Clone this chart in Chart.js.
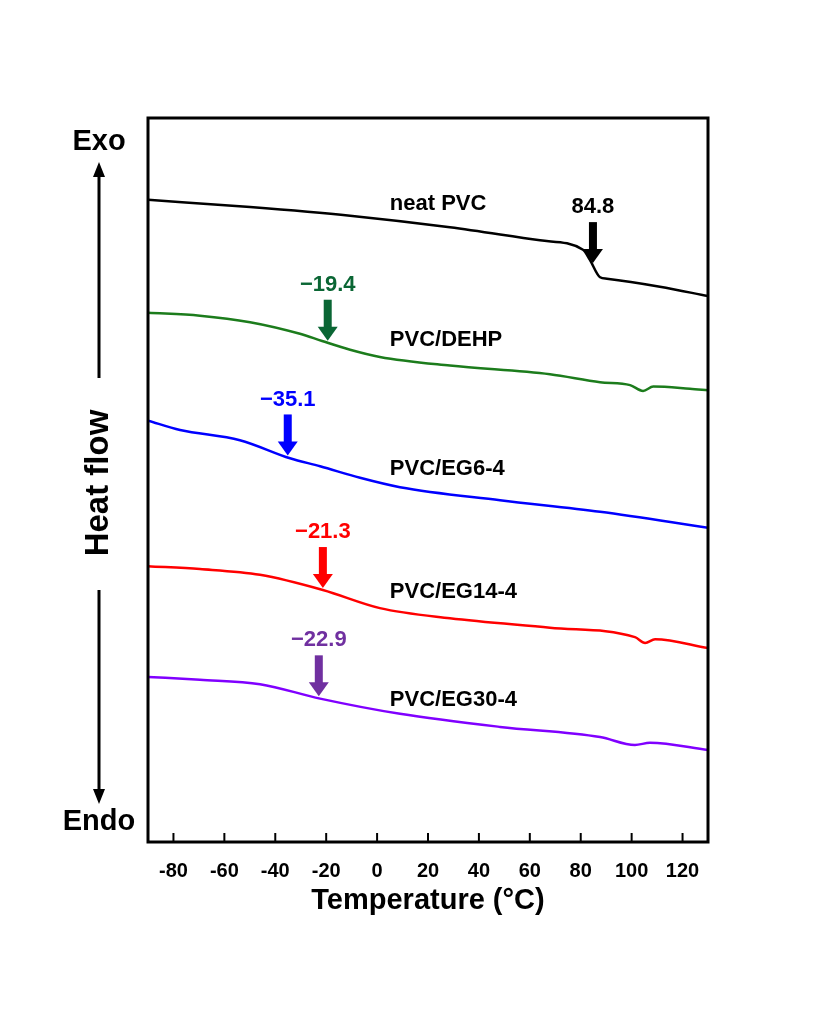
<!DOCTYPE html>
<html>
<head>
<meta charset="utf-8">
<script src="https://cdn.jsdelivr.net/npm/chart.js@4"></script>
<style>
  body { margin: 0; background: #fff; }
  #wrap { width: 823px; height: 1010px; }
</style>
</head>
<body>
<div id="wrap"><canvas id="dscChart" width="823" height="1010"></canvas></div>
<script>
// temperatures (degC) and heat flow (arbitrary units, shifted per curve)
const neatTemp = [-90, -49.9, -10.6, 28.6, 64.0, 80.9, 83.6, 87.6, 90.3, 111.1, 130];
const neatFlow = [88.7, 87.7, 86.5, 84.9, 83.1, 81.8, 80.4, 78.0, 77.8, 76.7, 75.4];

const dehpTemp = [-90, -69.6, -49.9, -30.3, -21.6, -10.6, 1.1, 28.6, 67.9, 87.6, 99.4, 104.5, 108.5, 122.9, 130];
const dehpFlow = [73.1, 72.7, 71.8, 70.2, 69.2, 68.0, 67.0, 65.8, 64.6, 63.5, 63.1, 62.3, 62.9, 62.6, 62.4];

const eg6Temp = [-90, -77.4, -53.9, -34.2, -22.4, -6.7, 9.0, 48.3, 87.6, 130];
const eg6Flow = [58.2, 56.9, 55.5, 53.0, 51.9, 50.3, 49.0, 47.2, 45.6, 43.4];

const eg14Temp = [-90, -69.6, -46.0, -21.3, 1.1, 28.6, 67.9, 101.3, 105.3, 109.2, 130];
const eg14Flow = [38.1, 37.7, 36.9, 34.8, 32.3, 30.9, 29.6, 28.3, 27.5, 28.0, 26.8];

const eg30Temp = [-90, -69.6, -46.0, -22.4, 9.0, 48.3, 87.6, 101.3, 107.2, 130];
const eg30Flow = [22.8, 22.4, 21.8, 19.8, 17.7, 15.9, 14.5, 13.4, 13.7, 12.7];

const curveNames = ['neat PVC', 'PVC/DEHP', 'PVC/EG6-4', 'PVC/EG14-4', 'PVC/EG30-4'];
const lineColors = ['#000000', '#1c7c1c', '#0000ff', '#ff0000', '#8000ff'];
const arrowColors = ['#000000', '#0a6634', '#0000ff', '#ff0000', '#7030a0'];

// glass transition temperatures marked by arrows
const tgValues = [84.8, -19.4, -35.1, -21.3, -22.9];
const tgLabels = ['84.8', '\u221219.4', '\u221235.1', '\u221221.3', '\u221222.9'];

// where the curve names sit
const nameTemp = 5;
const nameFlow = [88.1, 69.3, 51.5, 34.5, 19.6];

const tickValues = [-80, -60, -40, -20, 0, 20, 40, 60, 80, 100, 120];

const temps = [neatTemp, dehpTemp, eg6Temp, eg14Temp, eg30Temp];
const flows = [neatFlow, dehpFlow, eg6Flow, eg14Flow, eg30Flow];

function interp(xs, ys, x) {
    for (let i = 0; i < xs.length - 1; i++) {
        if (x >= xs[i] && x <= xs[i + 1]) {
            const f = (x - xs[i]) / (xs[i + 1] - xs[i]);
            return ys[i] + f * (ys[i + 1] - ys[i]);
        }
    }
    return ys[ys.length - 1];
}

const frameAndTicks = {
    id: 'frameAndTicks',
    afterDraw(chart) {
        const ctx = chart.ctx;
        const a = chart.chartArea;
        const x = chart.scales.x;
        ctx.save();
        ctx.strokeStyle = '#000';
        ctx.lineWidth = 3;
        ctx.strokeRect(a.left, a.top, a.right - a.left, a.bottom - a.top);
        ctx.lineWidth = 2;
        tickValues.forEach(v => {
            const px = x.getPixelForValue(v);
            ctx.beginPath();
            ctx.moveTo(px, a.bottom);
            ctx.lineTo(px, a.bottom - 9);
            ctx.stroke();
        });
        ctx.restore();
    }
};

const sideLabels = {
    id: 'sideLabels',
    afterDraw(chart) {
        const ctx = chart.ctx;
        const cx = 99;
        ctx.save();
        ctx.fillStyle = '#000';
        ctx.strokeStyle = '#000';
        ctx.textAlign = 'center';
        ctx.textBaseline = 'middle';
        ctx.font = 'bold 29px "Liberation Sans", Arial, sans-serif';
        ctx.fillText('Exo', cx, 142);
        ctx.fillText('Endo', cx, 822);

        ctx.lineWidth = 3;
        ctx.beginPath();
        ctx.moveTo(cx, 172); ctx.lineTo(cx, 378);
        ctx.moveTo(cx, 590); ctx.lineTo(cx, 794);
        ctx.stroke();
        ctx.beginPath();
        ctx.moveTo(cx, 162); ctx.lineTo(cx - 6, 177); ctx.lineTo(cx + 6, 177); ctx.closePath();
        ctx.moveTo(cx, 804); ctx.lineTo(cx - 6, 789); ctx.lineTo(cx + 6, 789); ctx.closePath();
        ctx.fill();

        ctx.translate(cx, 483);
        ctx.rotate(-Math.PI / 2);
        ctx.font = 'bold 33px "Liberation Sans", Arial, sans-serif';
        ctx.fillText('Heat flow', 0, 0);
        ctx.restore();
    }
};

const tgArrows = {
    id: 'tgArrows',
    afterDatasetsDraw(chart) {
        const ctx = chart.ctx;
        const xs = chart.scales.x, ys = chart.scales.y;
        ctx.save();
        ctx.textAlign = 'center';
        ctx.textBaseline = 'middle';
        tgValues.forEach((tg, i) => {
            const px = xs.getPixelForValue(tg);
            const tip = ys.getPixelForValue(interp(temps[i], flows[i], tg)) - 2;
            const top = tip - 41;
            ctx.fillStyle = arrowColors[i];
            ctx.fillRect(px - 4, top, 8, 28);
            ctx.beginPath();
            ctx.moveTo(px - 10, tip - 14);
            ctx.lineTo(px + 10, tip - 14);
            ctx.lineTo(px, tip);
            ctx.closePath();
            ctx.fill();
            ctx.font = 'bold 22px "Liberation Sans", Arial, sans-serif';
            ctx.fillText(tgLabels[i], px, top - 15);
        });

        ctx.fillStyle = '#000';
        ctx.textAlign = 'left';
        ctx.font = 'bold 22px "Liberation Sans", Arial, sans-serif';
        curveNames.forEach((name, i) => {
            ctx.fillText(name, xs.getPixelForValue(nameTemp), ys.getPixelForValue(nameFlow[i]));
        });
        ctx.restore();
    }
};

const datasets = curveNames.map((name, i) => ({
    label: name,
    data: temps[i].map((t, j) => ({ x: t, y: flows[i][j] })),
    borderColor: lineColors[i],
    borderWidth: 2.5,
    pointRadius: 0,
    fill: false,
    cubicInterpolationMode: 'monotone'
}));

new Chart(document.getElementById('dscChart'), {
    type: 'line',
    data: { datasets: datasets },
    options: {
        responsive: false,
        animation: false,
        layout: { padding: { left: 148, right: 115, top: 118, bottom: 0 } },
        plugins: { legend: { display: false }, tooltip: { enabled: false } },
        scales: {
            x: {
                type: 'linear',
                min: -90,
                max: 130,
                afterBuildTicks: scale => { scale.ticks = tickValues.map(v => ({ value: v })); },
                afterFit: scale => { scale.height = 168; },
                grid: { display: false },
                border: { display: false },
                ticks: {
                    color: '#000',
                    padding: 9,
                    maxRotation: 0,
                    font: { family: '"Liberation Sans", Arial, sans-serif', size: 20, weight: 'bold' }
                },
                title: {
                    display: true,
                    text: 'Temperature (\u00B0C)',
                    color: '#000',
                    padding: { top: 0, bottom: 92 },
                    font: { family: '"Liberation Sans", Arial, sans-serif', size: 29, weight: 'bold' }
                }
            },
            y: {
                display: false,
                min: 0,
                max: 100
            }
        }
    },
    plugins: [frameAndTicks, sideLabels, tgArrows]
});
</script>
</body>
</html>
